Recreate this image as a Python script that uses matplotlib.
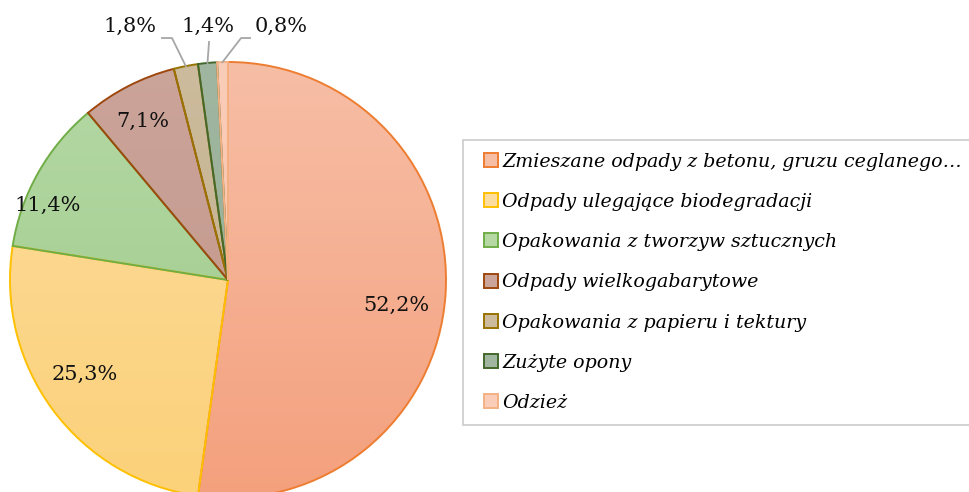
import matplotlib
matplotlib.use('Agg')
import matplotlib.pyplot as plt
import numpy as np
from matplotlib.colors import LinearSegmentedColormap
from matplotlib.lines import Line2D

# data
categories = ['Zmieszane odpady z betonu, gruzu ceglanego…',
              'Odpady ulegające biodegradacji',
              'Opakowania z tworzyw sztucznych',
              'Odpady wielkogabarytowe',
              'Opakowania z papieru i tektury',
              'Zużyte opony',
              'Odzież']
values = [52.2, 25.3, 11.4, 7.1, 1.8, 1.4, 0.8]
pct_labels = ['52,2%', '25,3%', '11,4%', '7,1%', '1,8%', '1,4%', '0,8%']

# style: gradient top/bottom fill + edge colour per slice
fill_top = ['#F7BEA6', '#FDDC9F', '#B5D8A5', '#CBA49A', '#CCBB9C', '#A0B6A0', '#FACDB9']
fill_bot = ['#F4A07D', '#FBD179', '#9DCB88', '#C39588', '#C2AF8C', '#94AC94', '#F7BDA2']
edge_cols = ['#ED7D31', '#FFC000', '#70AD47', '#9E480E', '#997300', '#43682B', '#F4B183']

# label placement (data units, pie radius = 1)
lab_pos = [(0.77, -0.115), (-0.656, -0.431), (-0.826, 0.344), (-0.39, 0.729),
           (-0.45, 1.161), (-0.092, 1.161), (0.243, 1.161)]
# leader elbow points for the small slices (idx -> elbow list)
leaders = {4: [(-0.303, 1.110), (-0.257, 1.110)],
           5: [(-0.087, 1.092)],
           6: [(0.101, 1.110), (0.060, 1.110)]}

plt.rcParams['font.family'] = ['DejaVu Serif']

W, H = 969, 492
fig = plt.figure(figsize=(W / 100, H / 100), dpi=100)
cx, cy, R = 228, 280, 218
ax = fig.add_axes([(cx - R) / W, (H - cy - R) / H, 2 * R / W, 2 * R / H])
ax.set_axis_off()

wedges, _ = ax.pie(values, startangle=90, counterclock=False, radius=1,
                   wedgeprops=dict(linewidth=1.4))
grad = np.linspace(0, 1, 256).reshape(-1, 1)
for w, ct, cb, ec in zip(wedges, fill_top, fill_bot, edge_cols):
    w.set_facecolor('none')
    w.set_edgecolor(ec)
    w.set_zorder(2)
    cmap = LinearSegmentedColormap.from_list('g', [cb, ct])
    im = ax.imshow(grad, cmap=cmap, extent=(-1, 1, -1, 1), origin='lower',
                   aspect='auto', zorder=1)
    im.set_clip_path(w)

for i, (lab, (x, y)) in enumerate(zip(pct_labels, lab_pos)):
    ax.text(x, y, lab, ha='center', va='center', fontsize=15, color='#111111')
    if i in leaders:
        w = wedges[i]
        mid = np.deg2rad((w.theta1 + w.theta2) / 2)
        pts = leaders[i] + [(np.cos(mid), np.sin(mid))]
        xs, ys = zip(*pts)
        ax.plot(xs, ys, color='#A6A6A6', lw=1.3, zorder=3, clip_on=False)

ax.set_xlim(-1, 1)
ax.set_ylim(-1, 1)
ax.set_aspect('equal')

handles = [Line2D([], [], ls='none', marker='s', markersize=10.2,
                  markerfacecolor=ct, markeredgecolor=ec, markeredgewidth=1.4)
           for ct, ec in zip(fill_top, edge_cols)]
fs = 13.7
leg = fig.legend(handles, categories, loc='upper left',
                 bbox_to_anchor=(463 / W, 1 - 140 / H), borderaxespad=0,
                 prop=dict(family='DejaVu Serif', style='italic', size=fs),
                 frameon=True, fancybox=False, handlelength=1.6,
                 handletextpad=-0.19, labelspacing=1.17, borderpad=0.66)
leg.get_frame().set_edgecolor('#BFBFBF')
leg.get_frame().set_linewidth(1.2)

fig.savefig('out.png', dpi=100)
